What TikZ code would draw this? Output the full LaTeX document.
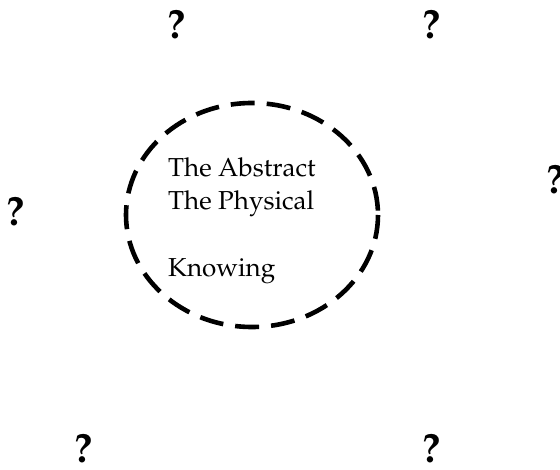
\documentclass[tikz,border=0pt]{standalone}
\usepackage[T1]{fontenc}
\usepackage{mathpazo}
\usetikzlibrary{positioning}

\tikzset{
  query/.style={font=\fontsize{41}{41}\selectfont\bfseries, inner sep=0pt},
  concept/.style={font=\fontsize{26}{33}\selectfont, anchor=base west, inner sep=0pt},
  boundary/.style={line width=4.6pt, dash pattern=on 24pt off 12pt}
}

\begin{document}
\begin{tikzpicture}[x=1pt, y=-1pt]
\useasboundingbox (0,0) rectangle (560,470);

% --- Dashed boundary ---
\draw[boundary] (252,215) ellipse [x radius=126, y radius=112];

% --- Contents ---
\node[concept] (abstract) at (168,177) {The Abstract};
\node[concept] (physical) at (168,210) {The Physical};
\node[concept] (knowing) at (168,277) {Knowing};

% --- Question marks around ---
\node[query] (qtopleft) at (177,24) {?};
\node[query] (qtopright) at (432,24) {?};
\node[query] (qright) at (556,179) {?};
\node[query] (qleft) at (16,211) {?};
\node[query] (qbotleft) at (84,448) {?};
\node[query] (qbotright) at (432,448) {?};

\end{tikzpicture}
\end{document}
